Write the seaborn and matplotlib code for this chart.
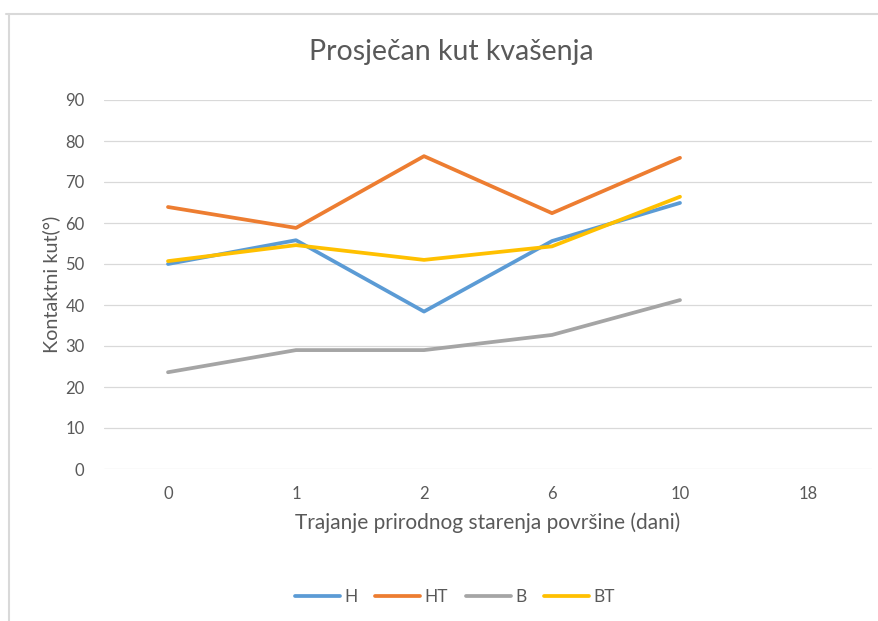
import numpy as np
import pandas as pd
import matplotlib
matplotlib.use("Agg")
import matplotlib.pyplot as plt
from matplotlib.lines import Line2D
import seaborn as sns

# Trajanje prirodnog starenja (dani) - kategorije na osi x
days = ["0", "1", "2", "6", "10", "18"]

# prosjecni kut kvasenja po uzorku (za 18 dana nema mjerenja)
h_vals = [50.0, 55.8, 38.4, 55.6, 64.9, np.nan]
ht_vals = [63.9, 58.8, 76.3, 62.4, 75.9, np.nan]
b_vals = [23.6, 29.0, 29.0, 32.7, 41.2, np.nan]
bt_vals = [50.7, 54.6, 51.0, 54.3, 66.4, np.nan]

series = {"H": h_vals, "HT": ht_vals, "B": b_vals, "BT": bt_vals}
colors = {"H": "#5B9BD5", "HT": "#ED7D31", "B": "#A5A5A5", "BT": "#FFC000"}

rows = []
for name, vals in series.items():
    for i, v in enumerate(vals):
        rows.append({"pos": i, "serija": name, "kut": v})
df = pd.DataFrame(rows).dropna()

sns.set_theme(style="white")
plt.rcParams["font.family"] = ["Lato", "DejaVu Sans"]
txt = "#595959"

fig = plt.figure(figsize=(8.79, 6.21), dpi=100)
ax = fig.add_axes([104 / 879, 1 - 469 / 621, 768 / 879, 369 / 621])

sns.lineplot(data=df, x="pos", y="kut", hue="serija", palette=colors,
             hue_order=list(series), linewidth=2.7, ax=ax, legend=False)

ax.set_xlim(-0.5, len(days) - 0.5)
ax.set_ylim(0, 90)
ax.set_xticks(range(len(days)))
ax.set_xticklabels(days)
ax.set_yticks(range(0, 91, 10))
ax.tick_params(axis="both", length=0, labelsize=12, labelcolor=txt, pad=14)
ax.tick_params(axis="x", pad=12)
ax.yaxis.grid(True, color="#D9D9D9", linewidth=0.9)
ax.set_axisbelow(True)
for s in ax.spines.values():
    s.set_visible(False)

ax.set_xlabel("Trajanje prirodnog starenja površine (dani)", fontsize=15,
              color=txt, labelpad=8)
ax.set_ylabel("Kontaktni kut(°)", fontsize=14.3, color=txt, labelpad=4)

fig.text(451 / 879, 1 - 52 / 621, "Prosječan kut kvašenja", ha="center",
         va="center", fontsize=20.5, color=txt)

handles = [Line2D([0], [0], color=colors[n], lw=2.7) for n in series]
fig.legend(handles, list(series), loc="center", bbox_to_anchor=(455 / 879, 1 - 597 / 621),
           ncol=4, frameon=False, fontsize=12.5, labelcolor=txt, handlelength=2.6,
           handletextpad=0.25, columnspacing=1.0)

# okvir grafikona
fig.add_artist(Line2D([6 / 879, 1], [1 - 13.5 / 621] * 2, color="#D9D9D9", lw=1.5,
                      transform=fig.transFigure))
fig.add_artist(Line2D([8.5 / 879] * 2, [0, 1 - 13.5 / 621], color="#D9D9D9", lw=1.5,
                      transform=fig.transFigure))

fig.savefig("out.png", dpi=100)
